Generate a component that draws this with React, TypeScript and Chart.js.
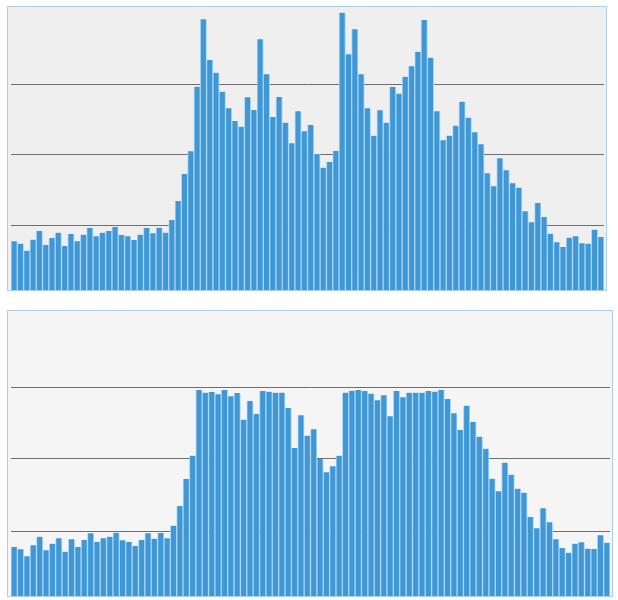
import React, { useEffect, useRef } from "react";
import { Chart, registerables } from "chart.js";

Chart.register(...registerables);

const bins: string[] = Array.from({ length: 94 }, (_, i) => String(i + 1));

const topValues: number[] = [
  48.7, 46.3, 39.3, 50.3, 59, 45, 52, 57.3, 44, 56,
  48.7, 55.3, 62, 53.7, 57.3, 59, 63, 55, 53.7, 50,
  55.3, 62, 56.7, 62.3, 57.3, 70, 89, 116, 138.7, 203.3,
  270.7, 230, 217.3, 198.3, 181.7, 169, 163.3, 192.7, 180, 250.7,
  215.7, 173, 193, 167.3, 146.7, 178.7, 158.7, 165, 136, 122.3,
  128, 139, 277.3, 235.7, 260.7, 215.7, 181.7, 154.3, 179.7, 167.3,
  203, 196.3, 213.3, 223.7, 238.3, 270, 232.3, 178.7, 149.7, 154.3,
  164.3, 188.3, 172.3, 157.7, 145.7, 116.7, 103.7, 131.7, 119.7, 106.7,
  102.3, 78.7, 67.7, 87, 73, 56.3, 47.7, 43, 52.3, 53.7,
  46.7, 46.3, 60.3, 53,
];

const bottomValues: number[] = [
  49, 46.7, 39.7, 50.7, 59.3, 45.7, 52.3, 57.7, 44.3, 56.7,
  49, 56, 62.7, 54, 57.7, 59.3, 63.3, 55.7, 54, 50,
  56, 62.7, 57.3, 63, 57.7, 70.3, 90, 117, 140.3, 206,
  203.3, 204, 201.7, 206, 199.7, 203, 176.3, 195, 182, 205,
  204.3, 203.3, 203.3, 188, 148, 180.7, 160.3, 166.7, 137, 123.7,
  129.7, 140.3, 203.3, 205.3, 206, 205, 202.3, 195.7, 200.7, 179.7,
  205, 198.7, 203.3, 203.3, 203.3, 205, 204.3, 206, 197, 182.7,
  166, 190.3, 174, 159.3, 147.3, 117.3, 104.7, 133.3, 121.3, 107.3,
  103.3, 79, 67.7, 87.7, 73.7, 56.7, 48, 43.3, 52.3, 53.7,
  47.3, 47, 60.7, 53.3,
];

const topGrid: number[] = [64, 136, 205];
const bottomGrid: number[] = [65, 138, 208];
const topMax = 283;
const bottomMax = 285;

function BarPanel(props: {
  values: number[];
  grid: number[];
  max: number;
  padLeft: number;
  padRight: number;
}) {
  const ref = useRef<HTMLCanvasElement | null>(null);
  useEffect(() => {
    if (!ref.current) return;
    const gridVals = props.grid;
    const chart = new Chart(ref.current, {
      type: "bar",
      data: {
        labels: bins,
        datasets: [
          {
            data: props.values,
            backgroundColor: "#3f97d6",
            borderColor: "#a9d6f3",
            borderWidth: { left: 1, right: 1, top: 0, bottom: 0 },
            borderSkipped: false,
            barPercentage: 1,
            categoryPercentage: 1,
          },
        ],
      },
      options: {
        animation: false,
        responsive: true,
        maintainAspectRatio: false,
        layout: {
          padding: { left: props.padLeft, right: props.padRight, top: 0, bottom: 0 },
        },
        plugins: {
          legend: { display: false },
          tooltip: { enabled: false },
          title: { display: false },
        },
        scales: {
          x: {
            display: false,
            offset: true,
            grid: { display: false },
          },
          y: {
            display: true,
            min: 0,
            max: props.max,
            border: { display: false },
            ticks: { display: false },
            grid: {
              drawTicks: false,
              color: "#6e6e6e",
              lineWidth: 1,
            },
            afterBuildTicks: (scale: any) => {
              scale.ticks = gridVals.map((v) => ({ value: v }));
            },
            afterFit: (scale: any) => {
              scale.width = 0;
            },
          },
        },
      },
    });
    return () => chart.destroy();
  }, []);
  return <canvas ref={ref} />;
}

export default function App() {
  return (
    <div>
      <div
        style={{
          position: "absolute",
          left: 7,
          top: 6,
          width: 598,
          height: 283,
          border: "1px solid #a8cfee",
          background: "#efeff0",
        }}
      >
        <div style={{ position: "relative", width: "100%", height: "100%" }}>
          <BarPanel values={topValues} grid={topGrid} max={topMax} padLeft={3} padRight={2} />
        </div>
      </div>
      <div
        style={{
          position: "absolute",
          left: 7,
          top: 310,
          width: 604,
          height: 285,
          border: "1px solid #a8cfee",
          background: "#f5f5f5",
        }}
      >
        <div style={{ position: "relative", width: "100%", height: "100%" }}>
          <BarPanel values={bottomValues} grid={bottomGrid} max={bottomMax} padLeft={3} padRight={2} />
        </div>
      </div>
    </div>
  );
}
